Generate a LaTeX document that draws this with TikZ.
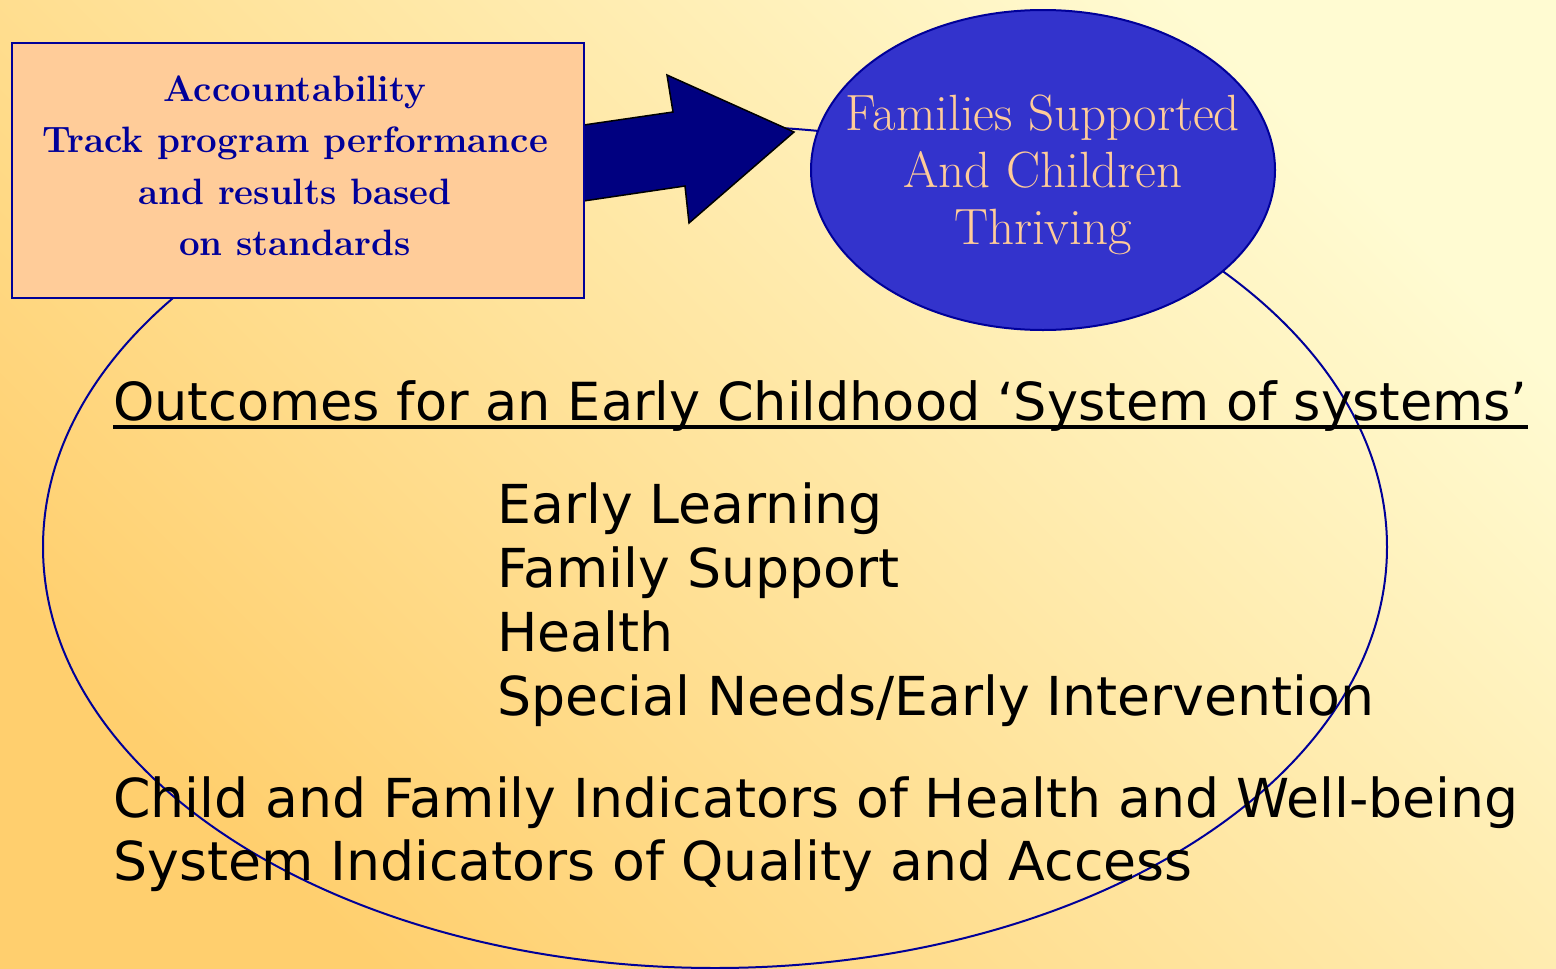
\documentclass[tikz,border=0pt]{standalone}
\usepackage{fontspec}
\newfontfamily\outfont{DejaVu Sans}
\usetikzlibrary{shapes.geometric}
\definecolor{navy}{HTML}{000080}
\definecolor{rimblue}{HTML}{000099}
\definecolor{peach}{HTML}{FFCC99}
\definecolor{royal}{HTML}{3333CC}
\definecolor{bglow}{HTML}{FFCF6E}
\definecolor{bghigh}{HTML}{FFFBD2}
\tikzset{
  rim/.style={draw=rimblue, line width=2pt},
  outtext/.style={font=\outfont\fontsize{53.7}{64}\selectfont, inner sep=0pt, anchor=base west},
}

\begin{document}
\begin{tikzpicture}[x=1pt, y=-1pt]
  % Background
  \shade[bottom color=bglow, top color=bghigh, shading angle=-45] (0,0) rectangle (1556,969);
  \useasboundingbox (0,0) rectangle (1556,969);

  % Outer ellipse
  \node[ellipse, rim, minimum width=1344pt, minimum height=842pt] (outer) at (715,547) {};

  % Arrow
  \filldraw[fill=navy, draw=black, line width=1.5pt] (570,127) -- (673,112) -- (667,75) -- (794,132)
    -- (689,223) -- (685,186) -- (570,203) -- cycle;

  % Nodes
  \node[rectangle, rim, fill=peach, minimum width=572pt, minimum height=255pt] (acct) at (298,170) {};
  \node[align=center, text=rimblue, font=\bfseries\fontsize{36.7}{51.5}\selectfont] (accttext) at (295,166)
    {Accountability\\ Track program performance\\ and results based\\ on standards};
  \node[ellipse, rim, fill=royal, minimum width=464pt, minimum height=320pt] (goal) at (1043,170) {};
  \node[align=center, text=peach, font=\fontsize{51}{57}\selectfont] (goaltext) at (1043,175)
    {Families Supported\\ And Children\\ Thriving};

  % Outcomes
  \node[outtext, font=\outfont\fontsize{52.5}{64}\selectfont] (title) at (113,420)
    {Outcomes for an Early Childhood ‘System of systems’};
  \draw[line width=4pt] ([yshift=-7pt]title.base west) -- ([yshift=-7pt]title.base east);
  \foreach \txt [count=\i] in {Early Learning, Family Support, Health, Special Needs/Early Intervention}
    \node[outtext] (sys\i) at (497, {459+64*\i}) {\txt};
  \node[outtext] (child) at (113,817) {Child and Family Indicators of Health and Well-being};
  \node[outtext] (quality) at (113,880) {System Indicators of Quality and Access};
\end{tikzpicture}
\end{document}
